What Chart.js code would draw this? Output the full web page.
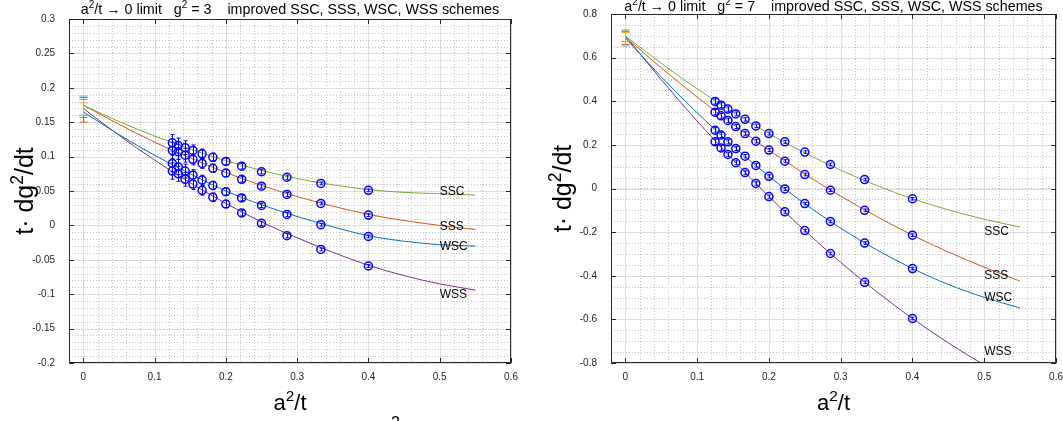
<!DOCTYPE html>
<html>
<head>
<meta charset="utf-8">
<script src="https://cdn.jsdelivr.net/npm/chart.js@4.4.1/dist/chart.umd.min.js"></script>
<style>
  html, body { margin: 0; padding: 0; background: #fff; }
  #wrap { position: relative; width: 1063px; height: 421px; overflow: hidden; }
  canvas { position: absolute; top: 0; }
</style>
</head>
<body>
<div id="wrap">
  <canvas id="left" width="531" height="421" style="left:0"></canvas>
  <canvas id="right" width="532" height="421" style="left:531px"></canvas>
</div>
<script>
const FONT = '"Liberation Sans", Arial, Helvetica, sans-serif';

// a^2/t of the measured points
const xPts = [0.125, 0.1333, 0.1429, 0.1538, 0.1667, 0.1818, 0.2, 0.2222, 0.25, 0.2857, 0.3333, 0.4];
// a^2/t where the fit curves are sampled
const curveX = [0, 0.05, 0.1, 0.15, 0.2, 0.25, 0.3, 0.35, 0.4, 0.45, 0.5, 0.55];

const schemes = ['SSC', 'SSS', 'WSC', 'WSS'];
const schemeColors = ['#77AC30', '#D95319', '#0072BD', '#7E2F8E'];
const zeroColors = ['#77AC30', '#D95319', '#4DBEEE', '#EDB120'];

// g^2 = 3
const g3SSC = [0.120, 0.116, 0.113, 0.109, 0.104, 0.099, 0.093, 0.086, 0.078, 0.070, 0.061, 0.051];
const g3SSS = [0.109, 0.107, 0.102, 0.096, 0.090, 0.083, 0.076, 0.067, 0.057, 0.045, 0.032, 0.015];
const g3WSC = [0.090, 0.085, 0.079, 0.073, 0.066, 0.058, 0.049, 0.040, 0.029, 0.016, 0.001, -0.016];
const g3WSS = [0.079, 0.075, 0.067, 0.060, 0.051, 0.041, 0.031, 0.018, 0.003, -0.015, -0.035, -0.059];
const g3Err = [0.012, 0.011, 0.010, 0.008, 0.007, 0.006, 0.005, 0.004, 0.003, 0.003, 0.002, 0.002];
const g3FitSSC = [0.175, 0.151, 0.130, 0.111, 0.094, 0.080, 0.068, 0.059, 0.052, 0.048, 0.046, 0.044];
const g3FitSSS = [0.175, 0.147, 0.121, 0.098, 0.077, 0.058, 0.042, 0.028, 0.016, 0.007, 0.000, -0.006];
const g3FitWSC = [0.165, 0.132, 0.102, 0.075, 0.050, 0.030, 0.013, -0.002, -0.015, -0.023, -0.028, -0.030];
const g3FitWSS = [0.170, 0.131, 0.095, 0.062, 0.032, 0.005, -0.018, -0.039, -0.058, -0.073, -0.085, -0.094];
const g3Zero = [0.170, 0.168, 0.174, 0.169];
const g3ZeroErr = [0.013, 0.018, 0.014, 0.009];
const g3LabelY = [0.049, -0.002, -0.031, -0.100];

// g^2 = 7
const g7SSC = [0.399, 0.382, 0.364, 0.342, 0.317, 0.287, 0.252, 0.214, 0.167, 0.110, 0.041, -0.047];
const g7SSS = [0.350, 0.333, 0.312, 0.284, 0.252, 0.217, 0.176, 0.125, 0.064, -0.008, -0.100, -0.214];
const g7WSC = [0.267, 0.245, 0.214, 0.183, 0.148, 0.106, 0.056, -0.002, -0.069, -0.151, -0.250, -0.367];
const g7WSS = [0.214, 0.186, 0.156, 0.118, 0.073, 0.023, -0.037, -0.107, -0.193, -0.298, -0.430, -0.596];
const g7Err = [0.012, 0.011, 0.010, 0.009, 0.008, 0.008, 0.007, 0.007, 0.006, 0.006, 0.006, 0.006];
const g7FitSSC = [0.700, 0.574, 0.457, 0.350, 0.252, 0.163, 0.084, 0.014, -0.047, -0.098, -0.141, -0.177];
const g7FitSSS = [0.695, 0.553, 0.419, 0.294, 0.176, 0.066, -0.035, -0.128, -0.214, -0.291, -0.361, -0.425];
const g7FitWSC = [0.690, 0.512, 0.347, 0.195, 0.056, -0.070, -0.182, -0.281, -0.367, -0.440, -0.499, -0.548];
const g7FitWSS = [0.700, 0.499, 0.309, 0.131, -0.037, -0.193, -0.339, -0.473, -0.596, -0.708, -0.809, -0.898];
const g7Zero = [0.700, 0.690, 0.685, 0.695];
const g7ZeroErr = [0.027, 0.030, 0.032, 0.020];
const g7LabelY = [-0.2, -0.4, -0.5, -0.75];

// tick labels
const xTicks = [0, 0.1, 0.2, 0.3, 0.4, 0.5, 0.6];
const g3YTicks = [-0.2, -0.15, -0.1, -0.05, 0, 0.05, 0.1, 0.15, 0.2, 0.25, 0.3];
const g7YTicks = [-0.8, -0.6, -0.4, -0.2, 0, 0.2, 0.4, 0.6, 0.8];

const fmt = v => String(Math.round(v * 1000) / 1000);

// text with superscripts: parts = [[text, isSup], ...]
function drawRich(ctx, parts, x, y, size, align) {
  let w = 0;
  parts.forEach(([t, s]) => {
    ctx.font = (s ? size * 0.7 : size) + 'px ' + FONT;
    w += ctx.measureText(t).width;
  });
  let cx = align === 'center' ? x - w / 2 : x;
  parts.forEach(([t, s]) => {
    ctx.font = (s ? size * 0.7 : size) + 'px ' + FONT;
    ctx.fillText(t, cx, s ? y - size * 0.42 : y);
    cx += ctx.measureText(t).width;
  });
}

const panelPlugin = {
  id: 'panel',
  beforeDatasetsDraw(chart, args, o) {
    const { ctx, chartArea: a, scales: { x, y } } = chart;
    ctx.save();
    ctx.lineWidth = 1;
    // minor grid, dotted
    ctx.strokeStyle = '#c2c2c2';
    ctx.setLineDash([1, 2]);
    ctx.beginPath();
    for (let v = x.min; v <= x.max + 1e-9; v += o.xMinor) {
      const px = Math.round(x.getPixelForValue(v)) + 0.5;
      ctx.moveTo(px, a.top); ctx.lineTo(px, a.bottom);
    }
    for (let v = y.min; v <= y.max + 1e-9; v += o.yMinor) {
      const py = Math.round(y.getPixelForValue(v)) + 0.5;
      ctx.moveTo(a.left, py); ctx.lineTo(a.right, py);
    }
    ctx.stroke();
    // major grid
    ctx.setLineDash([]);
    ctx.strokeStyle = '#dcdcdc';
    ctx.beginPath();
    x.ticks.forEach(t => {
      const px = Math.round(x.getPixelForValue(t.value)) + 0.5;
      ctx.moveTo(px, a.top); ctx.lineTo(px, a.bottom);
    });
    y.ticks.forEach(t => {
      const py = Math.round(y.getPixelForValue(t.value)) + 0.5;
      ctx.moveTo(a.left, py); ctx.lineTo(a.right, py);
    });
    ctx.stroke();
    ctx.restore();
  },
  afterDatasetsDraw(chart, args, o) {
    const { ctx, chartArea: a, scales: { x, y } } = chart;
    ctx.save();
    ctx.lineWidth = 1;
    // error bars of the measured points
    ctx.strokeStyle = '#0000ff';
    chart.data.datasets.forEach((ds, i) => {
      if (!ds.errors) return;
      chart.getDatasetMeta(i).data.forEach((pt, j) => {
        const v = ds.data[j].y, e = ds.errors[j];
        const px = Math.round(pt.x) + 0.5;
        const y0 = y.getPixelForValue(v - e), y1 = y.getPixelForValue(v + e);
        ctx.beginPath();
        ctx.moveTo(px, y0); ctx.lineTo(px, y1);
        ctx.moveTo(px - 2, y0); ctx.lineTo(px + 2, y0);
        ctx.moveTo(px - 2, y1); ctx.lineTo(px + 2, y1);
        ctx.stroke();
      });
    });
    // continuum values at a^2/t = 0
    o.zero.forEach((v, k) => {
      const px = Math.round(x.getPixelForValue(0)) + 0.5;
      const y0 = y.getPixelForValue(v - o.zeroErr[k]), y1 = y.getPixelForValue(v + o.zeroErr[k]);
      ctx.strokeStyle = zeroColors[k];
      ctx.beginPath();
      ctx.moveTo(px, y0); ctx.lineTo(px, y1);
      ctx.moveTo(px - 4, y0); ctx.lineTo(px + 4, y0);
      ctx.moveTo(px - 4, y1); ctx.lineTo(px + 4, y1);
      ctx.stroke();
    });
    // box and inward ticks
    ctx.strokeStyle = '#262626';
    ctx.beginPath();
    ctx.rect(a.left + 0.5, a.top + 0.5, a.right - a.left - 1, a.bottom - a.top - 1);
    x.ticks.forEach(t => {
      const px = Math.round(x.getPixelForValue(t.value)) + 0.5;
      ctx.moveTo(px, a.bottom); ctx.lineTo(px, a.bottom - 5);
      ctx.moveTo(px, a.top); ctx.lineTo(px, a.top + 5);
    });
    y.ticks.forEach(t => {
      const py = Math.round(y.getPixelForValue(t.value)) + 0.5;
      ctx.moveTo(a.left, py); ctx.lineTo(a.left + 5, py);
      ctx.moveTo(a.right, py); ctx.lineTo(a.right - 5, py);
    });
    ctx.stroke();
    // scheme names at the end of the curves
    ctx.fillStyle = '#000';
    ctx.font = '12px ' + FONT;
    ctx.textBaseline = 'middle';
    schemes.forEach((s, k) => {
      ctx.fillText(s, x.getPixelForValue(0.5), y.getPixelForValue(o.labelY[k]));
    });
    // titles
    ctx.textBaseline = 'alphabetic';
    ctx.fillStyle = '#000';
    const cx = (a.left + a.right) / 2;
    drawRich(ctx, [['a', 0], ['2', 1], ['/t \u2192 0 limit   g', 0], ['2', 1], [' = ' + o.g2 + '    improved SSC, SSS, WSC, WSS schemes', 0]], cx, o.titleY, 14.3, 'center');
    drawRich(ctx, [['a', 0], ['2', 1], ['/t', 0]], cx, 410, 22, 'center');
    ctx.save();
    ctx.translate(o.yLabelX, (a.top + a.bottom) / 2);
    ctx.rotate(-Math.PI / 2);
    drawRich(ctx, [['t\u00B7 dg', 0], ['2', 1], ['/dt', 0]], 0, 0, 25, 'center');
    ctx.restore();
    if (o.extra) o.extra(ctx);
    ctx.restore();
  }
};

function makePanel(id, p) {
  const datasets = [];
  p.fits.forEach((f, k) => datasets.push({
    data: curveX.map((v, i) => ({ x: v, y: f[i] })),
    showLine: true, pointRadius: 0, borderWidth: 1,
    borderColor: schemeColors[k], cubicInterpolationMode: 'monotone', order: 2
  }));
  p.series.forEach(s => datasets.push({
    data: xPts.map((v, i) => ({ x: v, y: s[i] })),
    pointRadius: 4, pointStyle: 'circle', borderWidth: 1.5,
    borderColor: '#0000ff', backgroundColor: 'rgba(0,0,0,0)',
    errors: p.err, order: 1
  }));
  return new Chart(document.getElementById(id), {
    type: 'scatter',
    data: { datasets },
    options: {
      responsive: false, animation: false, events: [],
      layout: { padding: p.padding },
      plugins: {
        legend: { display: false }, tooltip: { enabled: false },
        panel: p.panel
      },
      scales: {
        x: {
          type: 'linear', min: -0.02, max: 0.6,
          grid: { display: false }, border: { display: false },
          ticks: { font: { family: FONT, size: 10 }, color: '#262626', padding: 0, maxRotation: 0, autoSkip: false, callback: fmt },
          afterBuildTicks: s => { s.ticks = xTicks.map(v => ({ value: v })); },
          afterFit: s => { s.height = p.xHeight; }
        },
        y: {
          type: 'linear', min: p.yTicks[0], max: p.yTicks[p.yTicks.length - 1],
          grid: { display: false }, border: { display: false },
          ticks: { font: { family: FONT, size: 10 }, color: '#262626', padding: 6, autoSkip: false, callback: fmt },
          afterBuildTicks: s => { s.ticks = p.yTicks.map(v => ({ value: v })); },
          afterFit: s => { s.width = p.yWidth; }
        }
      }
    },
    plugins: [panelPlugin]
  });
}

makePanel('left', {
  series: [g3SSC, g3SSS, g3WSC, g3WSS],
  fits: [g3FitSSC, g3FitSSS, g3FitWSC, g3FitWSS],
  err: g3Err, yTicks: g3YTicks,
  padding: { left: 0, right: 20, top: 19, bottom: 0 },
  yWidth: 69, xHeight: 58,
  panel: {
    xMinor: 0.02, yMinor: 0.01, zero: g3Zero, zeroErr: g3ZeroErr,
    labelY: g3LabelY, g2: 3, titleY: 14, yLabelX: 33,
    extra: ctx => { ctx.font = '16px ' + FONT; ctx.textBaseline = 'top'; ctx.fillText('2', 391, 416); }
  }
});

makePanel('right', {
  series: [g7SSC, g7SSS, g7WSC, g7WSS],
  fits: [g7FitSSC, g7FitSSS, g7FitWSC, g7FitWSS],
  err: g7Err, yTicks: g7YTicks,
  padding: { left: 0, right: 5, top: 14, bottom: 0 },
  yWidth: 80, xHeight: 58,
  panel: {
    xMinor: 0.02, yMinor: 0.05, zero: g7Zero, zeroErr: g7ZeroErr,
    labelY: g7LabelY, g2: 7, titleY: 11, yLabelX: 40
  }
});
</script>
</body>
</html>
